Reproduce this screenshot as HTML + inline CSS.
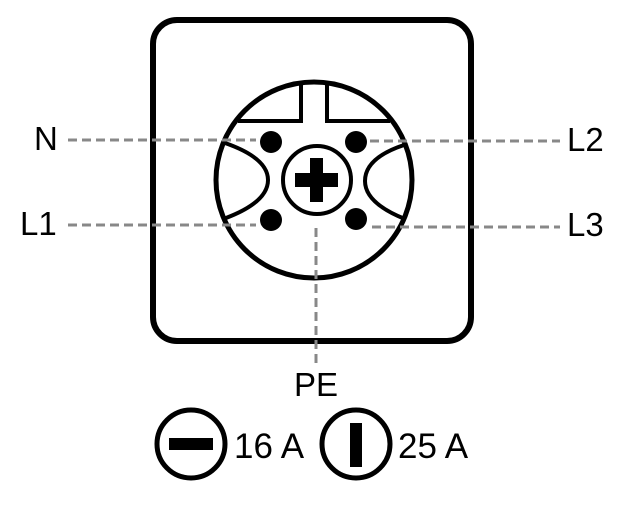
<!DOCTYPE html>
<html><head><style>html,body{margin:0;padding:0;background:#fff;}svg{display:block}</style></head>
<body>
<svg width="631" height="512" viewBox="0 0 631 512" xmlns="http://www.w3.org/2000/svg">
<rect x="153" y="20" width="318" height="321" rx="24" fill="none" stroke="#000" stroke-width="6"/>
<circle cx="314" cy="180" r="98" fill="none" stroke="#000" stroke-width="5"/>
<path d="M238 121 L301 121 L301 83 M327 83 L327 121 L390 121" fill="none" stroke="#000" stroke-width="4"/>
<path d="M225 143 Q268 158 268 180 Q268 202 226 218" fill="none" stroke="#000" stroke-width="4"/>
<path d="M404 145 Q365 158 365 181 Q365 203 405 219" fill="none" stroke="#000" stroke-width="4"/>
<circle cx="317" cy="180" r="34" fill="none" stroke="#000" stroke-width="4"/>
<rect x="295" y="173" width="43" height="14" fill="#000"/>
<rect x="310" y="158" width="13" height="44" fill="#000"/>
<circle cx="271" cy="142" r="11" fill="#000"/>
<circle cx="356" cy="142" r="11" fill="#000"/>
<circle cx="271" cy="220" r="11" fill="#000"/>
<circle cx="356" cy="219" r="11" fill="#000"/>
<g stroke="#888" stroke-width="3" stroke-dasharray="9,5" fill="none">
<line x1="68" y1="140" x2="256" y2="140"/>
<line x1="370" y1="141" x2="560" y2="141"/>
<line x1="68" y1="225" x2="256" y2="225"/>
<line x1="372" y1="227" x2="560" y2="227"/>
<line x1="316" y1="228" x2="316" y2="368"/>
</g>
<g font-family="Liberation Sans, sans-serif" font-size="33" fill="#000">
<text x="34" y="150">N</text>
<text x="20" y="235">L1</text>
<text x="567" y="151">L2</text>
<text x="567" y="236">L3</text>
<text x="294" y="396">PE</text>
<text x="234" y="458" font-size="35">16 A</text>
<text x="398" y="458" font-size="35">25 A</text>
</g>
<circle cx="191" cy="444" r="34" fill="none" stroke="#000" stroke-width="5"/>
<rect x="169" y="438" width="44" height="12" fill="#000"/>
<circle cx="356" cy="444" r="34" fill="none" stroke="#000" stroke-width="5"/>
<rect x="350" y="423" width="12" height="44" fill="#000"/>
</svg>
</body></html>
